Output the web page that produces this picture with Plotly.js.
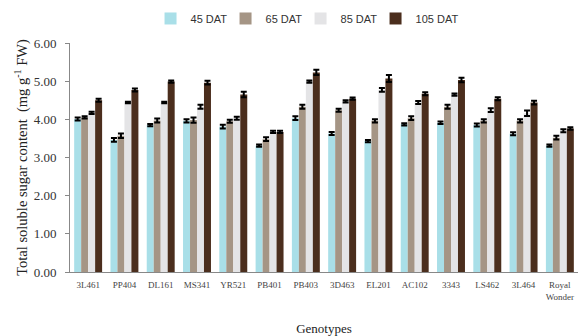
<!DOCTYPE html>
<html>
<head>
<meta charset="utf-8">
<script src="https://cdn.plot.ly/plotly-3.0.1.min.js"></script>
<style>html,body{margin:0;padding:0;background:#fff;}#chart{width:579px;height:336px;}</style>
</head>
<body>
<div id="chart"></div>
<script>
const genotypes = ["3L461","PP404","DL161","MS341","YR521","PB401","PB403","3D463","EL201","AC102","3343","LS462","3L464","Royal<br>Wonder"];
const seriesNames = ["45 DAT","65 DAT","85 DAT","105 DAT"];
const dat45  = [4.01,3.46,3.85,3.96,3.81,3.31,4.03,3.63,3.43,3.87,3.91,3.85,3.62,3.31];
const dat65  = [4.05,3.57,3.97,3.98,3.95,3.48,4.33,4.24,3.96,4.03,4.33,3.96,3.96,3.52];
const dat85  = [4.17,4.44,4.44,4.33,4.03,3.67,4.99,4.47,4.77,4.44,4.65,4.24,4.16,3.70];
const dat105 = [4.50,4.77,4.99,4.96,4.65,3.67,5.23,4.54,5.07,4.67,5.03,4.54,4.44,3.76];
const err45  = [0.04,0.05,0.03,0.04,0.05,0.03,0.05,0.04,0.03,0.03,0.03,0.04,0.04,0.03];
const err65  = [0.03,0.06,0.05,0.07,0.04,0.05,0.05,0.04,0.04,0.05,0.05,0.04,0.04,0.05];
const err85  = [0.03,0.02,0.02,0.05,0.04,0.03,0.03,0.03,0.05,0.04,0.03,0.05,0.07,0.04];
const err105 = [0.04,0.04,0.03,0.05,0.07,0.03,0.07,0.03,0.09,0.04,0.06,0.04,0.05,0.03];
const colors = ["#a9dfe8","#a59585","#e4e4e6","#4b2e1d"];

const values = [dat45,dat65,dat85,dat105];
const errs = [err45,err65,err85,err105];
const traces = seriesNames.map((n,i)=>({
  type:"bar", name:n, x:genotypes, y:values[i],
  marker:{color:colors[i], line:{width:0}},
  error_y:{type:"data", array:errs[i], visible:true, color:"#000", thickness:2, width:3}
}));

const layout = {
  width:579, height:336,
  margin:{l:70,r:1,t:43,b:64},
  paper_bgcolor:"#fff", plot_bgcolor:"#fff",
  barmode:"group", bargap:0.23, bargroupgap:0,
  showlegend:true,
  legend:{orientation:"h", xref:"container", yref:"container", x:0.26, xanchor:"left", y:0.945, yanchor:"middle",
    font:{family:"Liberation Sans, Arial, sans-serif", size:11, color:"#333"},
    entrywidth:30, entrywidthmode:"pixels", itemwidth:30, traceorder:"normal", bgcolor:"rgba(0,0,0,0)"},
  xaxis:{
    showline:true, linecolor:"#888", linewidth:1, ticks:"", showgrid:false,
    ticklabelstandoff:4,
    tickfont:{family:"Liberation Serif, Times New Roman, serif", size:9, color:"#444"},
    tickangle:0,
    title:{text:"Genotypes", font:{family:"Liberation Serif, Times New Roman, serif", size:13, color:"#222"}, standoff:24}
  },
  yaxis:{
    range:[0,6], dtick:1, tickformat:".2f",
    showline:true, linecolor:"#888", linewidth:1, ticks:"outside", ticklen:4, tickcolor:"#888",
    ticklabelstandoff:6,
    showgrid:false, zeroline:false,
    tickfont:{family:"Liberation Serif, Times New Roman, serif", size:13, color:"#333"},
    title:{text:"Total soluble sugar content  (mg g<sup>-1</sup> FW)", font:{family:"Liberation Serif, Times New Roman, serif", size:14.5, color:"#222"}, standoff:2}
  }
};
Plotly.newPlot("chart", traces, layout, {displayModeBar:false, staticPlot:true}).then(gd=>{
  gd.querySelectorAll(".legend [clip-path]").forEach(el=>el.removeAttribute("clip-path"));
});
</script>
</body>
</html>
